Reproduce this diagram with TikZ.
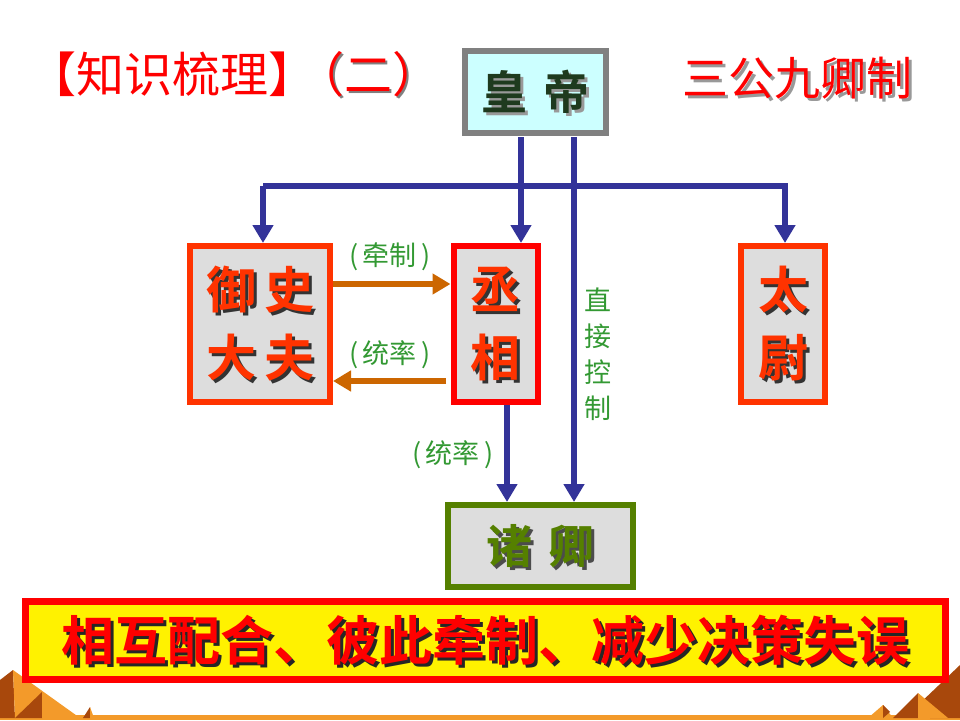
\documentclass[tikz,border=0pt]{standalone}
\usepackage{fontspec}
\setmainfont{Noto Sans CJK SC}[BoldFont={Noto Sans CJK SC Bold}]
\usetikzlibrary{arrows.meta}
\definecolor{navy}{HTML}{333399}
\definecolor{brn}{HTML}{CC6600}
\definecolor{lbl}{HTML}{339933}
\definecolor{ored}{HTML}{FF3300}
\definecolor{olive}{HTML}{558000}
\definecolor{dgreen}{HTML}{1E3A1E}
\definecolor{cy}{HTML}{CCFFFF}
\definecolor{gr}{HTML}{DDDDDD}
\definecolor{dk1}{HTML}{A8480C}
\definecolor{or1}{HTML}{F39A2A}
\tikzset{
  x=1pt,y=-1pt,
  box/.style={draw,line width=6pt,fill=gr,inner sep=0pt},
  blue/.style={draw=navy,line width=6pt},
  bluearr/.style={blue,-{Triangle[width=20pt,length=18pt]}},
  brarr/.style={draw=brn,line width=6pt,-{Triangle[width=20pt,length=18pt]}},
  lab/.style={text=lbl,font=\fontsize{27}{27}\selectfont},
  big/.style={font=\bfseries\fontsize{50}{50}\selectfont},
}
\newcommand{\shtext}[5]{% pos, color, shadowcolor, text, style
  \node[#5,text=#3] at ([shift={(3,3)}]#1) {#4};
  \node[#5,text=#2] at (#1) {#4};}
\begin{document}
\begin{tikzpicture}
\useasboundingbox (0,0) rectangle (960,720);
\fill[white] (0,0) rectangle (960,720);
% bottom decoration
\fill[or1] (0,715) rectangle (960,720);
\fill[dk1] (0,680) -- (13,670) -- (15,718) -- (0,718) -- cycle;
\fill[or1] (13,670) -- (80,718) -- (15,718) -- cycle;
\fill[dk1] (15,718) -- (42,692) -- (42,718) -- cycle;
\fill[or1] (42,692) -- (75,718) -- (42,718) -- cycle;
\fill[dk1] (83,718) -- (90,707) -- (90,718) -- cycle;
\fill[or1] (90,707) -- (94,718) -- (90,718) -- cycle;
\fill[dk1] (960,665) -- (960,718) -- (930,718) -- (918,705) -- cycle;
\fill[dk1] (893,718) -- (918,693) -- (918,718) -- cycle;
\fill[or1] (918,693) -- (948,718) -- (918,718) -- cycle;
\fill[or1] (868,718) -- (883,705) -- (893,718) -- cycle;
\fill[dk1] (883,705) -- (890,712) -- (883,718) -- cycle;

% title
\node[text=red,font=\fontsize{48}{48}\selectfont,anchor=west,inner sep=0pt] (title) at (28,74) {【知识梳理】};
\node[text=gray,font=\fontsize{48}{48}\selectfont,anchor=west,inner sep=0pt] at (298,76) {（二）};
\node[text=red,font=\fontsize{48}{48}\selectfont,anchor=west,inner sep=0pt] (title2) at (296,74) {（二）};
\node[text=gray!80,font=\fontsize{46}{46}\selectfont,inner sep=0pt] at (800,81) {三公九卿制};
\node[text=red,font=\fontsize{46}{46}\selectfont,inner sep=0pt] (sgjq) at (797,78) {三公九卿制};

% boxes
\node[box,draw=gray,fill=cy,minimum width=141pt,minimum height=82pt] (hd) at (535.5,92) {};
\node[box,draw=ored,minimum width=140pt,minimum height=156pt] (ys) at (260,324) {};
\node[box,draw=red,minimum width=84pt,minimum height=156pt] (cx) at (495.5,324) {};
\node[box,draw=ored,minimum width=84pt,minimum height=156pt] (tw) at (783,324) {};
\node[box,draw=olive,minimum width=185pt,minimum height=82pt] (zq) at (540.5,546) {};
\node[draw=red,line width=7pt,fill=yellow,minimum width=920pt,minimum height=78pt,inner sep=0pt] (bn) at (485,640) {};

% box texts
\shtext{hd.center}{dgreen}{black!40}{\fontsize{46}{46}\selectfont 皇\hspace{16pt}帝}{big}
\shtext{ys.center}{ored}{black!80}{御\hspace{8pt}史\\[18pt]大\hspace{8pt}夫}{big,align=center}
\shtext{cx.center}{ored}{black!80}{丞\\[18pt]相}{big,align=center}
\shtext{tw.center}{ored}{black!80}{太\\[18pt]尉}{big,align=center}
\shtext{zq.center}{olive}{black!70}{\fontsize{46}{46}\selectfont 诸\hspace{16pt}卿}{big}
\node[font=\bfseries\fontsize{53}{53}\selectfont,text=black!85] at ([shift={(3.5,3.5)}]bn.center) {相互配合、彼此牵制、减少决策失误};
\node[font=\bfseries\fontsize{53}{53}\selectfont,text=red] (bt) at (bn.center) {相互配合、彼此牵制、减少决策失误};

% connectors from emperor
\coordinate (h1) at (521,137);
\coordinate (h2) at (574,137);
\coordinate (jL) at (263,186);
\coordinate (jR) at (785,186);
\draw[blue] (263,186) -- (788,186);
\draw[bluearr] (jL) -- (jL |- ys.north);
\draw[bluearr] (jR) -- (jR |- tw.north);
\draw[bluearr] (h1) -- (h1 |- cx.north);
\draw[bluearr] (h2) -- (h2 |- zq.north);

% orange arrows
\draw[brarr] (333,284) -- (cx.west |- 0,284);
\draw[brarr] (446,381) -- (ys.east |- 0,381);
\node[lab] (l1) at (390,257) {(\,牵制\,)};
\node[lab] (l2) at (390,355) {(\,统率\,)};

% chancellor to ministers
\coordinate (c1) at (507,405);
\draw[bluearr] (c1) -- (c1 |- zq.north);
\node[lab] (l3) at (453,455) {(\,统率\,)};
\node[lab,align=center,inner sep=0pt] (zj) at (598,354) {直\\[9pt]接\\[9pt]控\\[9pt]制};
\end{tikzpicture}
\end{document}
